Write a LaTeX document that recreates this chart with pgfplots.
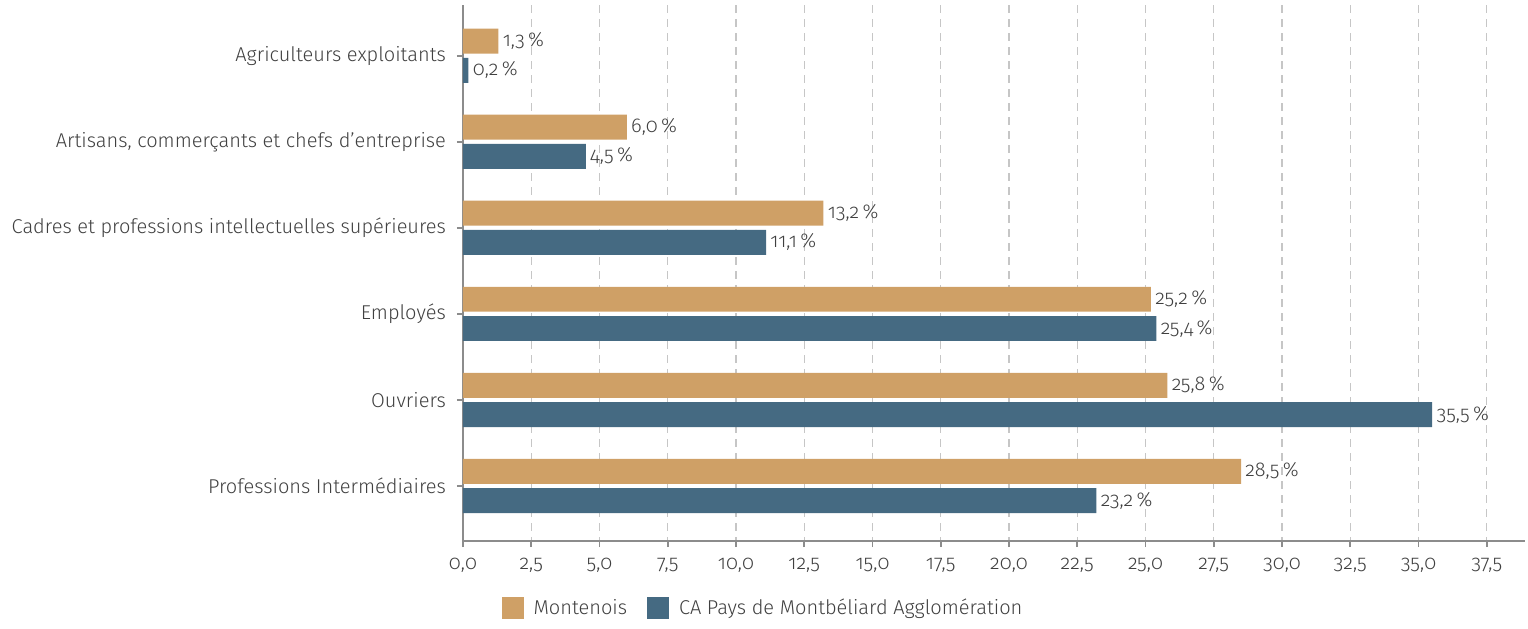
\documentclass[border=0pt]{standalone}
\usepackage{fontspec}
\setmainfont{Fira Sans}[UprightFont=* Light, Ligatures=ResetAll, Numbers=OldStyle]
\usepackage{pgfplots}
\pgfplotsset{compat=1.18}
\definecolor{monte}{HTML}{CFA066}
\definecolor{capm}{HTML}{456A82}
\definecolor{txt}{HTML}{404040}
\definecolor{axgray}{HTML}{8C8C8C}

\begin{document}
\begin{tikzpicture}
\begin{axis}[
  scale only axis, width=531pt, height=268pt,
  xbar, bar width=0.29,
  y dir=reverse,
  xmin=0, xmax=38.9, ymin=-0.59, ymax=5.64,
  xtick={0,2.5,...,37.5},
  ytick={0,...,5},
  yticklabels={Agriculteurs exploitants,
    {Artisans, commerçants et chefs d'entreprise},
    Cadres et professions intellectuelles supérieures,
    Employés, Ouvriers, Professions Intermédiaires},
  axis lines=left, axis line style={-, axgray, line width=1pt},
  tick style={axgray, line width=0.8pt}, tick align=outside, major tick length=3pt,
  xmajorgrids, grid style={dash pattern=on 4pt off 3pt, gray!45, line width=0.6pt},
  /pgf/number format/assume math mode=true,
  tick label style={font=\fontsize{10}{12}\selectfont, text=txt},
  yticklabel style={xshift=-2pt},
  xticklabel style={yshift=-2pt, /pgf/number format/.cd, fixed, zerofill, precision=1, use comma},
  nodes near coords={\pgfmathprintnumber[assume math mode=true,fixed,zerofill,precision=1,use comma]{\pgfplotspointmeta}\,\%},
  nodes near coords style={font=\fontsize{10}{12}\selectfont, text=txt, inner sep=2pt},
  legend style={at={(rel axis cs:0.2834,-0.125)}, anchor=center, draw=none,
    font=\fontsize{10}{12}\selectfont, text=txt,
    /tikz/every odd column/.append style={column sep=3pt},
    /tikz/every even column/.append style={column sep=8pt}},
  legend columns=2,
  legend image code/.code={\fill[#1] (0pt,-5.5pt) rectangle (11pt,5.5pt);},
]
\addplot[fill=monte, draw=none, bar shift=-0.17] coordinates {(1.3,0) (6.0,1) (13.2,2) (25.2,3) (25.8,4) (28.5,5)};
\addplot[fill=capm, draw=none, bar shift=0.17] coordinates {(0.2,0) (4.5,1) (11.1,2) (25.4,3) (35.5,4) (23.2,5)};
\legend{Montenois, CA Pays de Montbéliard Agglomération}
\end{axis}
\pgfresetboundingbox
\path ([shift={(-231.5pt,-43.5pt)}]current axis.south west) rectangle ([shift={(532.5pt,270.5pt)}]current axis.south west);
\end{tikzpicture}
\end{document}
